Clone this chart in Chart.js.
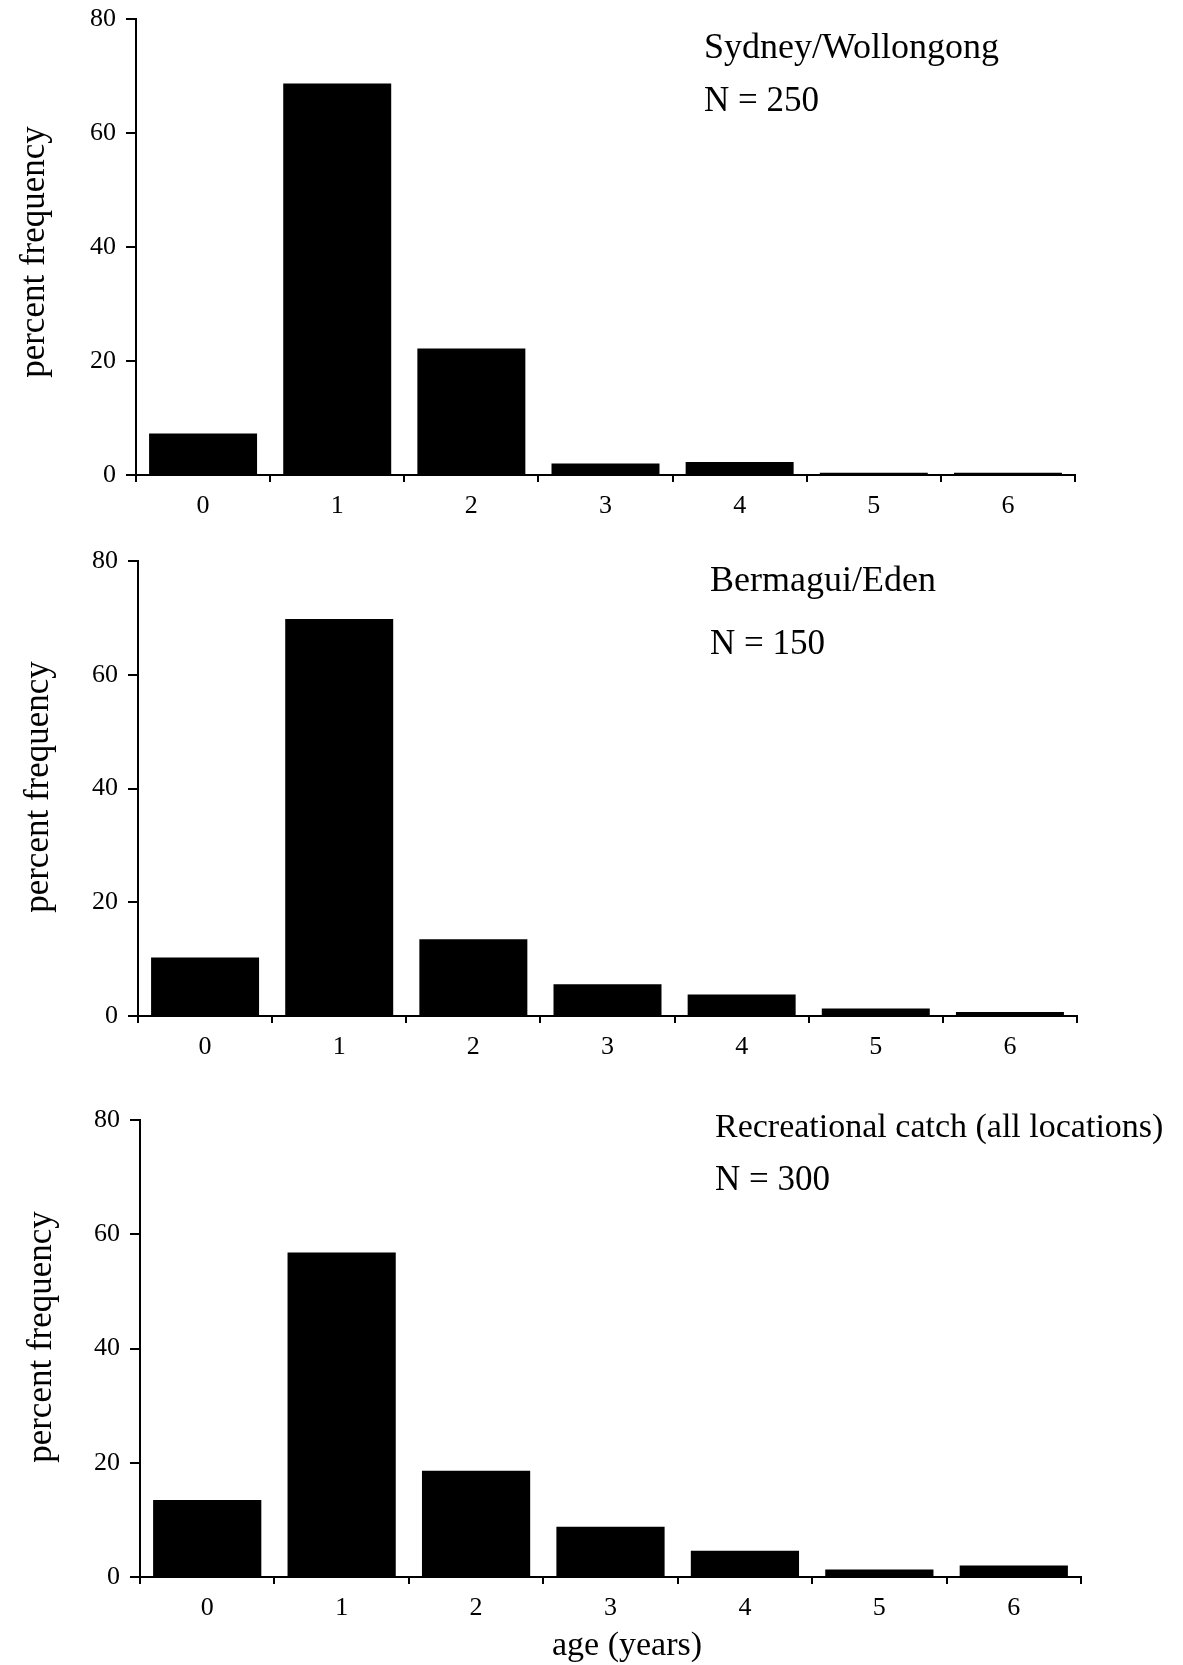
<!DOCTYPE html>
<html>
<head>
<meta charset="utf-8">
<script src="https://cdn.jsdelivr.net/npm/chart.js@4.4.1/dist/chart.umd.min.js"></script>
<style>
  html, body { margin: 0; padding: 0; background: #fff; }
  #page { position: relative; width: 1183px; height: 1665px; overflow: hidden; }
  #page canvas { position: absolute; left: 0; }
</style>
</head>
<body>
<div id="page">
  <canvas id="panel1" width="1183" height="540" style="top:0px;width:1183px;height:540px"></canvas>
  <canvas id="panel2" width="1183" height="540" style="top:540px;width:1183px;height:540px"></canvas>
  <canvas id="panel3" width="1183" height="585" style="top:1080px;width:1183px;height:585px"></canvas>
</div>
<script>
// Age classes (years) on the x axis
const ages = ['0', '1', '2', '3', '4', '5', '6'];

// Percent frequency of each age class
const sydneyWollongong  = [7.3, 68.7, 22.2, 2.0, 2.3, 0.4, 0.4];
const bermaguiEden      = [10.3, 69.8, 13.5, 5.6, 3.8, 1.3, 0.7];
const recreationalCatch = [13.5, 56.8, 18.6, 8.8, 4.6, 1.3, 2.0];

// Y-axis tick values
const yTicks = [0, 20, 40, 60, 80];

// Panel captions and sample sizes
const panelNames  = ['Sydney/Wollongong', 'Bermagui/Eden', 'Recreational catch (all locations)'];
const sampleSizes = [250, 150, 300];

const yTitleText = 'percent frequency';
const xTitleText = 'age (years)';

const SERIF = '"Liberation Serif", "Times New Roman", serif';

// Draws the caption lines and axis titles of a panel
const panelText = {
  id: 'panelText',
  afterDraw(chart, args, opts) {
    const ctx = chart.ctx;
    ctx.save();
    ctx.fillStyle = '#000';
    ctx.textBaseline = 'middle';
    ctx.textAlign = 'left';
    (opts.notes || []).forEach(n => {
      ctx.font = (n.size || 35) + 'px ' + SERIF;
      ctx.fillText(n.text, n.x, n.y);
    });
    ctx.font = '35px ' + SERIF;
    if (opts.yTitle) {
      ctx.save();
      ctx.translate(opts.yTitle.x, opts.yTitle.y);
      ctx.rotate(-Math.PI / 2);
      ctx.textAlign = 'center';
      ctx.fillText(opts.yTitle.text, 0, 0);
      ctx.restore();
    }
    if (opts.xTitle) {
      ctx.font = '34px ' + SERIF;
      ctx.textAlign = 'center';
      ctx.fillText(opts.xTitle.text, opts.xTitle.x, opts.xTitle.y);
    }
    ctx.restore();
  }
};

function makePanel(canvasId, values, frame, text) {
  const ctx = document.getElementById(canvasId);
  const canvasH = ctx.height;
  const xAxisHeight = 60;
  return new Chart(ctx, {
    type: 'bar',
    data: {
      labels: ages,
      datasets: [{
        data: values,
        backgroundColor: '#000',
        borderWidth: 0,
        categoryPercentage: 1.0,
        barPercentage: 0.805
      }]
    },
    options: {
      responsive: false,
      animation: false,
      events: [],
      layout: {
        padding: {
          left: 0,
          top: frame.top,
          right: ctx.width - frame.right,
          bottom: canvasH - frame.bottom - xAxisHeight
        }
      },
      plugins: {
        legend: { display: false },
        tooltip: { enabled: false },
        title: { display: false },
        panelText: text
      },
      scales: {
        x: {
          type: 'category',
          offset: true,
          afterFit(s) { s.height = xAxisHeight; },
          grid: {
            offset: true,
            drawOnChartArea: false,
            drawTicks: true,
            tickLength: 7,
            tickWidth: 2,
            color: '#000',
            lineWidth: 2
          },
          border: { display: true, color: '#000', width: 2 },
          ticks: {
            color: '#000',
            font: { family: SERIF, size: 26 },
            padding: 9,
            maxRotation: 0
          }
        },
        y: {
          min: 0,
          max: 80,
          afterFit(s) {
            s.width = frame.left;
            // the frame's top padding already leaves room for the "80" label
            s.paddingTop = 0;
            s.paddingBottom = 0;
          },
          afterBuildTicks(s) { s.ticks = yTicks.map(v => ({ value: v })); },
          grid: {
            drawOnChartArea: false,
            drawTicks: true,
            tickLength: 10,
            tickWidth: 2,
            color: '#000',
            lineWidth: 2
          },
          border: { display: true, color: '#000', width: 2 },
          ticks: {
            color: '#000',
            font: { family: SERIF, size: 26 },
            padding: 10
          }
        }
      }
    },
    plugins: [panelText]
  });
}

makePanel('panel1', sydneyWollongong,
  { left: 136, top: 19, right: 1075, bottom: 475 },
  {
    notes: [
      { text: panelNames[0], x: 704, y: 49, size: 36 },
      { text: 'N = ' + sampleSizes[0], x: 704, y: 102 }
    ],
    yTitle: { text: yTitleText, x: 35, y: 252 }
  });

makePanel('panel2', bermaguiEden,
  { left: 138, top: 21, right: 1077, bottom: 476 },
  {
    notes: [
      { text: panelNames[1], x: 710, y: 42, size: 36 },
      { text: 'N = ' + sampleSizes[1], x: 710, y: 105 }
    ],
    yTitle: { text: yTitleText, x: 39, y: 247 }
  });

makePanel('panel3', recreationalCatch,
  { left: 140, top: 40, right: 1081, bottom: 497 },
  {
    notes: [
      { text: panelNames[2], x: 715, y: 48, size: 34 },
      { text: 'N = ' + sampleSizes[2], x: 715, y: 101 }
    ],
    yTitle: { text: yTitleText, x: 42, y: 257 },
    xTitle: { text: xTitleText, x: 627, y: 566 }
  });
</script>
</body>
</html>
